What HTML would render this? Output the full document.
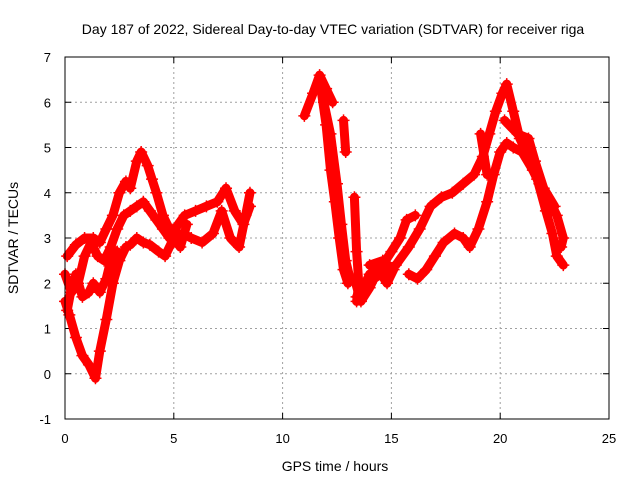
<!DOCTYPE html>
<html><head><meta charset="utf-8"><style>
body{margin:0;background:#fff}
svg{display:block;font-family:"Liberation Sans",sans-serif}
</style></head><body>
<svg id="chart" width="640" height="480" xmlns="http://www.w3.org/2000/svg">
<rect width="640" height="480" fill="#fff"/>
<text x="333" y="34" text-anchor="middle" font-size="14">Day 187 of 2022, Sidereal Day-to-day VTEC variation (SDTVAR) for receiver riga</text>
<text x="335" y="471" text-anchor="middle" font-size="14">GPS time / hours</text>
<text x="18" y="238" text-anchor="middle" font-size="14" transform="rotate(-90 18 238)">SDTVAR / TECUs</text>
<g id="grid"></g>
<g id="ticks"></g>
<g id="marks"></g>
<rect x="65" y="57" width="544" height="362" fill="none" stroke="#000" stroke-width="1"/>
</svg>
<script>
const xTicks=[0,5,10,15,20,25];
const yTicks=[-1,0,1,2,3,4,5,6,7];
const trackA=[[0.1,2.6],[0.5,2.85],[0.9,3.0],[1.3,3.0],[1.6,2.9],[1.9,3.2],[2.2,3.5],[2.5,4.0],[2.8,4.25],[3.0,4.1],[3.3,4.7],[3.5,4.9],[3.8,4.6],[4.0,4.3],[4.2,4.0],[4.5,3.5],[4.8,3.2],[5.0,3.0],[5.3,2.8],[5.6,3.3]];
const trackB=[[0.0,1.6],[0.2,1.3],[0.5,0.8],[0.8,0.4],[1.1,0.2],[1.4,-0.1],[1.6,0.5],[1.9,1.2],[2.2,2.0],[2.5,2.5],[2.8,2.8],[3.0,2.85],[3.3,3.0],[3.6,2.9],[3.9,2.85],[4.3,2.7],[4.6,2.6],[5.0,3.0],[5.4,3.1],[5.8,3.0],[6.3,2.9],[6.8,3.1],[7.2,3.6],[7.6,3.0],[8.0,2.8],[8.3,3.5],[8.5,4.0]];
const trackC=[[0.0,2.2],[0.3,1.8],[0.6,2.0],[0.9,2.6],[1.2,2.9],[1.5,2.6],[1.8,2.5],[2.1,2.8],[2.4,3.2],[2.7,3.5],[3.0,3.6],[3.3,3.7],[3.6,3.8],[3.9,3.6],[4.2,3.4],[4.5,3.2],[4.8,3.0],[5.2,3.3],[5.5,3.5],[6.0,3.6],[6.5,3.7],[7.0,3.8],[7.4,4.1],[7.8,3.6],[8.2,3.3],[8.5,3.7]];
const trackD=[[0.1,1.4],[0.3,1.9],[0.5,2.2],[0.8,1.7],[1.1,1.8],[1.3,2.0],[1.6,1.8],[1.9,2.1],[2.1,2.5],[2.4,2.7]];
const trackE=[[11.0,5.7],[11.4,6.2],[11.7,6.6],[12.0,6.3],[12.3,6.0]];
const trackF=[[11.7,6.5],[12.0,5.5],[12.2,4.5],[12.4,3.8],[12.6,3.0],[12.8,2.3],[13.0,2.0]];
const trackG=[[11.9,6.0],[12.2,5.3],[12.5,4.2],[12.7,3.3],[12.9,2.5],[13.1,2.1]];
const trackH=[[12.8,5.6],[12.9,4.9]];
const trackI=[[13.3,3.9],[13.4,2.7],[13.5,2.0],[13.4,1.6]];
const trackJ=[[13.4,1.7],[13.8,2.0],[14.0,2.2],[14.6,2.4],[15.0,2.7],[15.4,3.0],[15.7,3.4],[16.1,3.5]];
const trackK=[[13.6,1.8],[14.2,2.1],[14.8,2.3],[15.2,2.4],[15.8,2.8],[16.3,3.2],[16.8,3.7],[17.3,3.9],[17.8,4.0],[18.3,4.2],[18.8,4.4],[19.2,4.8],[19.5,5.3],[19.8,5.8],[20.1,6.2],[20.3,6.4],[20.6,5.8],[20.9,5.2],[21.3,4.8],[21.7,4.3],[22.1,3.6],[22.4,3.1],[22.6,2.6],[22.9,2.4]];
const trackL=[[15.8,2.2],[16.2,2.1],[16.6,2.3],[17.0,2.6],[17.4,2.9],[17.9,3.1],[18.3,3.0],[18.6,2.8],[19.0,3.2],[19.4,3.8],[19.7,4.4],[20.0,4.9],[20.3,5.1],[20.6,5.0],[21.0,4.9],[21.5,4.5],[21.8,4.2],[22.2,3.9],[22.6,3.5],[22.9,3.0],[22.8,2.8]];
const trackM=[[19.1,5.3],[19.4,4.4]];
const trackN=[[20.2,5.6],[20.8,5.3],[21.3,5.2],[21.6,4.7],[22.0,4.1],[22.5,3.7]];
const trackO=[[13.3,2.1],[13.6,1.6],[14.0,1.9],[14.4,2.3],[14.8,2.0],[15.1,2.3],[14.6,2.5],[14.0,2.4]];
const tracks=[trackA,trackB,trackC,trackD,trackE,trackF,trackG,trackH,trackI,trackJ,trackK,trackL,trackM,trackN,trackO];

const X0=65,X1=609,Y0=419,Y1=57;
const xs=h=>X0+(h-0)/(25-0)*(X1-X0);
const ys=v=>Y0-(v+1)/8*(Y0-Y1);
const NS="http://www.w3.org/2000/svg";
const grid=document.getElementById('grid'),ticks=document.getElementById('ticks'),marks=document.getElementById('marks');
function mk(tag,attrs,parent){const e=document.createElementNS(NS,tag);for(const k in attrs)e.setAttribute(k,attrs[k]);parent.appendChild(e);return e;}
xTicks.forEach(t=>{
  const x=xs(t);
  if(t>0&&t<25){const g=mk('line',{x1:x,x2:x,y1:Y1,y2:Y0,stroke:'#a0a0a0','stroke-dasharray':'2,3'},grid);
  
  }
  mk('line',{x1:x,x2:x,y1:Y0,y2:Y0-6,stroke:'#000'},ticks);
  mk('line',{x1:x,x2:x,y1:Y1,y2:Y1+6,stroke:'#000'},ticks);
  const l=mk('text',{x:x,y:443,'text-anchor':'middle','font-size':13},ticks);
  l.textContent=t;
  
  
});
yTicks.forEach(t=>{
  const y=ys(t);
  if(t>-1&&t<7){const g=mk('line',{x1:X0,x2:X1,y1:y,y2:y,stroke:'#a0a0a0','stroke-dasharray':'2,3'},grid);
  
  }
  mk('line',{x1:X0,x2:X0+6,y1:y,y2:y,stroke:'#000'},ticks);
  mk('line',{x1:X1,x2:X1-6,y1:y,y2:y,stroke:'#000'},ticks);
  const l=mk('text',{x:51,y:y+5,'text-anchor':'end','font-size':13},ticks);
  l.textContent=t;
  
  
});
tracks.forEach((tr,i)=>{
  const d=tr.map((p,j)=>(j?'L':'M')+xs(p[0]).toFixed(1)+','+ys(p[1]).toFixed(1)).join(' ');
  const p=mk('path',{d:d,fill:'none',stroke:'#ff0000','stroke-width':9,'stroke-linejoin':'round','stroke-linecap':'round'},marks);
  
  
  tr.forEach(pt=>{
    const cx=xs(pt[0]),cy=ys(pt[1]);
    const m=mk('path',{d:`M${cx-6},${cy}H${cx+6}M${cx},${cy-6}V${cy+6}`,stroke:'#ff0000','stroke-width':1.5},marks);
    
    
  });
});
</script>
</body></html>
